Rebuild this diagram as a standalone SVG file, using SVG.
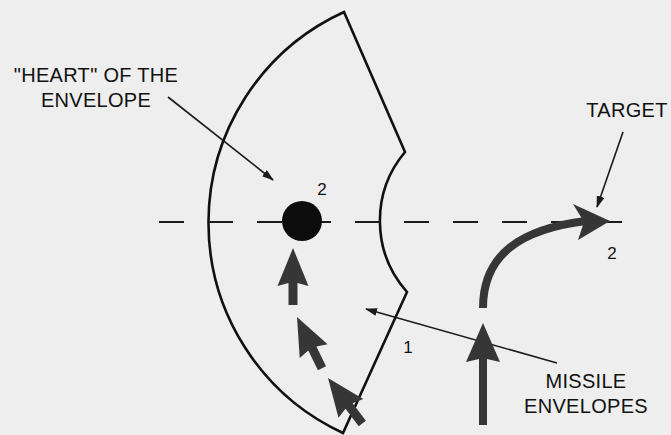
<svg xmlns="http://www.w3.org/2000/svg" width="671" height="435" viewBox="0 0 671 435">
<defs>
<style>
.lbl{font-family:"Liberation Sans",Arial,sans-serif;font-size:20px;letter-spacing:0.3px;fill:#111;}
.num{font-family:"Liberation Sans",Arial,sans-serif;font-size:17px;fill:#111;}
.env{fill:none;stroke:#111;stroke-width:2.6;stroke-linejoin:miter;}
.dash{stroke:#1a1a1a;stroke-width:2.2;stroke-dasharray:25 24;fill:none;}
.leader{stroke:#1a1a1a;stroke-width:1.6;fill:none;marker-end:url(#ah);}
.big{fill:#363636;}
</style>
<marker id="ah" viewBox="0 0 12 8" refX="11" refY="4" markerWidth="12" markerHeight="8" markerUnits="userSpaceOnUse" orient="auto">
<path d="M0,0 L12,4 L0,8 Z" fill="#1a1a1a"/>
</marker>
<polygon id="mArrow" points="0,0 15.5,38 4.5,35 4.5,57 -4.5,57 -4.5,35 -15.5,38"/>
</defs>
<rect width="671" height="435" fill="#eeeeee"/>
<g id="envelope">
<path class="env" d="M344,12 A231.6,231.6 0 0 0 343,433 L407,292 A107,107 0 0 1 405,152 Z"/>
</g>
<g id="connectors">
<line class="dash" x1="159" y1="222" x2="622" y2="222"/>
<line class="leader" x1="168" y1="97" x2="273" y2="180"/>
<line class="leader" x1="623" y1="132" x2="597" y2="207"/>
<line class="leader" x1="557" y1="363" x2="366" y2="309"/>
</g>
<g id="heart">
<circle cx="302" cy="221" r="20" fill="#0d0d0d"/>
<text class="num" x="322" y="195" text-anchor="middle">2</text>
</g>
<g id="missiles">
<use href="#mArrow" class="big" transform="translate(293,248)"/>
<use href="#mArrow" class="big" transform="translate(297,317) rotate(-26)"/>
<use href="#mArrow" class="big" transform="translate(328,378) rotate(-37)"/>
</g>
<g id="target-path">
<polygon class="big" points="483,323 500,362 487,359 487,425 479,425 479,359 466,362"/>
<path d="M483,308 C483,255 520,229 586,221" fill="none" stroke="#363636" stroke-width="8"/>
<polygon class="big" points="610,221 573,204 584,222 578,240"/>
<text class="num" x="612" y="259" text-anchor="middle">2</text>
</g>
<g id="label-heart">
<text class="lbl" x="96" y="82" text-anchor="middle">"HEART" OF THE</text>
<text class="lbl" x="96" y="107" text-anchor="middle">ENVELOPE</text>
</g>
<g id="label-target">
<text class="lbl" x="627" y="117" text-anchor="middle">TARGET</text>
</g>
<g id="label-missile">
<text class="lbl" x="586" y="388" text-anchor="middle">MISSILE</text>
<text class="lbl" x="586" y="413" text-anchor="middle">ENVELOPES</text>
</g>
<g id="label-1">
<text class="num" x="408" y="353" text-anchor="middle">1</text>
</g>
</svg>
